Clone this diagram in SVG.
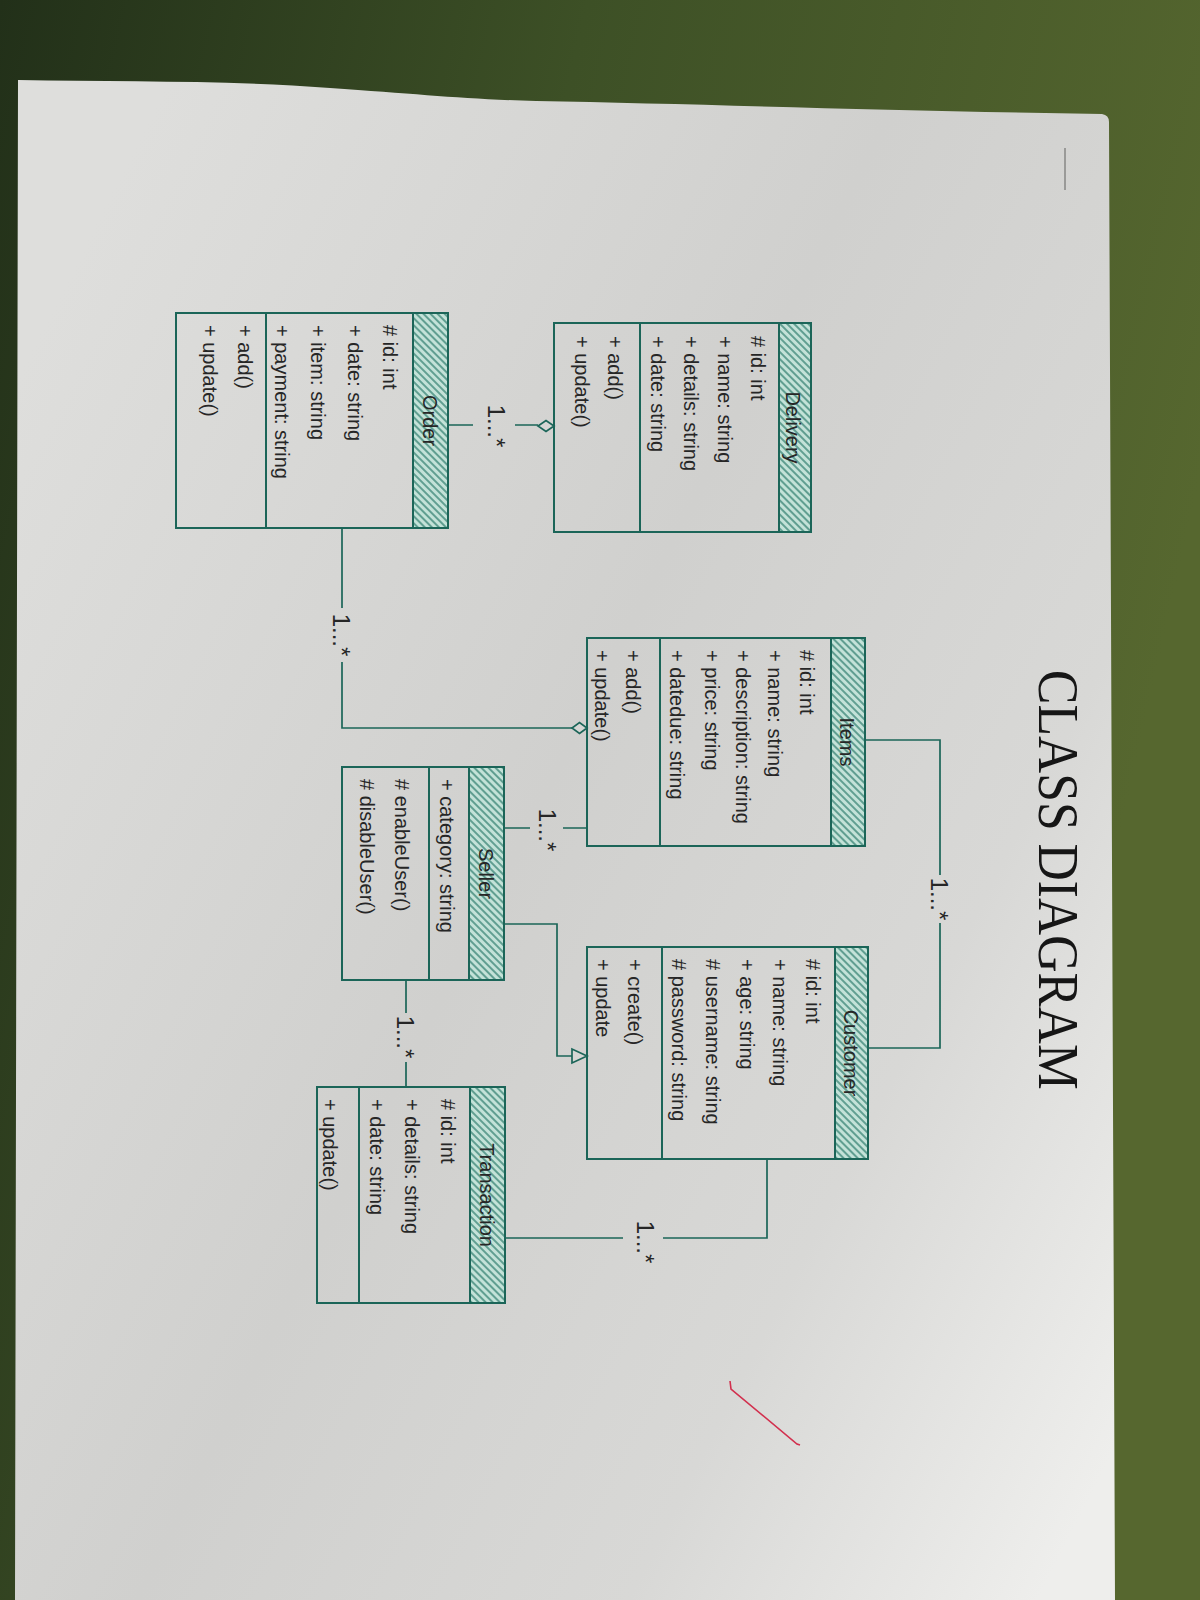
<svg xmlns="http://www.w3.org/2000/svg" width="1200" height="1600" viewBox="0 0 1200 1600">
<defs>
<linearGradient id="bg" x1="0" y1="0" x2="1" y2="0.3">
<stop offset="0" stop-color="#223019"/>
<stop offset="0.45" stop-color="#3d5026"/>
<stop offset="1" stop-color="#56672f"/>
</linearGradient>
<linearGradient id="paper" x1="0" y1="0.2" x2="1" y2="0.9">
<stop offset="0" stop-color="#dededc"/>
<stop offset="0.45" stop-color="#d0d0ce"/>
<stop offset="0.75" stop-color="#d8d8d6"/>
<stop offset="1" stop-color="#eeeeec"/>
</linearGradient>
<pattern id="hatch" patternUnits="userSpaceOnUse" width="5" height="10" patternTransform="rotate(45)">
<rect width="5" height="10" fill="#c3e2d8"/>
<line x1="1" y1="0" x2="1" y2="10" stroke="#2b7a6b" stroke-width="1.3"/>
</pattern>
<style>
.box{fill:none;stroke:#1b6558;stroke-width:2}
.hdr{fill:url(#hatch);stroke:#1b6558;stroke-width:2}
.div{stroke:#1b6558;stroke-width:2}
.t{font-family:"Liberation Sans",Arial,sans-serif;font-size:20px;fill:#262626}
.h{font-family:"Liberation Sans",Arial,sans-serif;font-size:20px;fill:#262626;text-anchor:middle}
.edge{fill:none;stroke:#1b6558;stroke-width:1.7}
.end{fill:#d6d6d4;stroke:#1b6558;stroke-width:1.7}
.lbl{font-family:"Liberation Sans",Arial,sans-serif;font-size:24px;fill:#262626;text-anchor:middle}
.title{font-family:"Liberation Serif","Times New Roman",serif;font-size:56px;fill:#161616}
</style>
</defs>
<rect width="1200" height="1600" fill="url(#bg)"/>
<path d="M18 80 C 120 82 230 80 330 88 C 420 94 460 99 536 101 C 700 104 900 111 1102 114 Q 1109 115 1109 122 L 1115 1600 L 15 1600 Z" fill="url(#paper)"/>
<line x1="1065" y1="148" x2="1065" y2="190" stroke="#9a9a98" stroke-width="2"/>
<path d="M730 1381 L731 1389 L797 1444 L800 1445" fill="none" stroke="#d2304e" stroke-width="1.6"/>

<g transform="translate(1200,0) rotate(90)">
<text class="title" x="670" y="161" textLength="420" lengthAdjust="spacingAndGlyphs">CLASS DIAGRAM</text>

<g id="delivery">
<rect class="box" x="323" y="389" width="209" height="257"/>
<rect class="hdr" x="323" y="389" width="209" height="32"/>
<line class="div" x1="323" y1="560" x2="532" y2="560"/>
<text class="h" x="427.5" y="414">Delivery</text>
<text class="t" x="336" y="449"># id: int</text>
<text class="t" x="336" y="482">+ name: string</text>
<text class="t" x="336" y="516">+ details: string</text>
<text class="t" x="336" y="549">+ date: string</text>
<text class="t" x="336" y="592">+ add()</text>
<text class="t" x="336" y="625">+ update()</text>
</g>

<g id="order">
<rect class="box" x="313" y="752" width="215" height="272"/>
<rect class="hdr" x="313" y="752" width="215" height="35"/>
<line class="div" x1="313" y1="934" x2="528" y2="934"/>
<text class="h" x="420.5" y="777">Order</text>
<text class="t" x="325" y="817"># id: int</text>
<text class="t" x="325" y="852">+ date: string</text>
<text class="t" x="325" y="889">+ item: string</text>
<text class="t" x="325" y="925">+ payment: string</text>
<text class="t" x="325" y="962">+ add()</text>
<text class="t" x="325" y="997">+ update()</text>
</g>

<g id="items">
<rect class="box" x="638" y="335" width="208" height="278"/>
<rect class="hdr" x="638" y="335" width="208" height="34"/>
<line class="div" x1="638" y1="540" x2="846" y2="540"/>
<text class="h" x="742" y="360">Items</text>
<text class="t" x="650" y="400"># id: int</text>
<text class="t" x="650" y="432">+ name: string</text>
<text class="t" x="650" y="464">+ description: string</text>
<text class="t" x="650" y="495">+ price: string</text>
<text class="t" x="650" y="530">+ datedue: string</text>
<text class="t" x="650" y="574">+ add()</text>
<text class="t" x="650" y="605">+ update()</text>
</g>

<g id="customer">
<rect class="box" x="947" y="332" width="212" height="281"/>
<rect class="hdr" x="947" y="332" width="212" height="33"/>
<line class="div" x1="947" y1="538" x2="1159" y2="538"/>
<text class="h" x="1053" y="356">Customer</text>
<text class="t" x="959" y="394"># id: int</text>
<text class="t" x="959" y="427">+ name: string</text>
<text class="t" x="959" y="460">+ age: string</text>
<text class="t" x="959" y="494"># username: string</text>
<text class="t" x="959" y="528"># password: string</text>
<text class="t" x="959" y="572">+ create()</text>
<text class="t" x="959" y="604">+ update</text>
</g>

<g id="seller">
<rect class="box" x="767" y="696" width="213" height="162"/>
<rect class="hdr" x="767" y="696" width="213" height="35"/>
<line class="div" x1="767" y1="771" x2="980" y2="771"/>
<text class="h" x="873.5" y="721">Seller</text>
<text class="t" x="779" y="760">+ category: string</text>
<text class="t" x="779" y="805"># enableUser()</text>
<text class="t" x="779" y="840"># disableUser()</text>
</g>

<g id="transaction">
<rect class="box" x="1087" y="695" width="216" height="188"/>
<rect class="hdr" x="1087" y="695" width="216" height="35"/>
<line class="div" x1="1087" y1="841" x2="1303" y2="841"/>
<text class="h" x="1195" y="720">Transaction</text>
<text class="t" x="1099" y="759"># id: int</text>
<text class="t" x="1099" y="795">+ details: string</text>
<text class="t" x="1099" y="830">+ date: string</text>
<text class="t" x="1099" y="877">+ update()</text>
</g>

<g id="connectors">
<path class="edge" d="M425 662 L425 685 M425 727 L425 752"/>
<polygon class="end" points="426,646 431.5,654 426,662 420.5,654"/>
<text class="lbl" x="426" y="712">1...*</text>

<path class="edge" d="M528 858 L608 858 M662 858 L728 858 L728 628"/>
<polygon class="end" points="728,613 733.5,620.5 728,628 722.5,620.5"/>
<text class="lbl" x="635" y="867">1...*</text>

<path class="edge" d="M740 335 L740 260 L875 260 M923 260 L1048 260 L1048 332"/>
<text class="lbl" x="899" y="269">1...*</text>

<path class="edge" d="M828 696 L828 670 M828 637 L828 613"/>
<text class="lbl" x="830" y="661">1...*</text>

<path class="edge" d="M924 696 L924 643 L1056 643 L1056 628"/>
<polygon class="end" points="1056,613 1063,628 1049,628"/>

<path class="edge" d="M980 794 L1013 794 M1062 794 L1087 794"/>
<text class="lbl" x="1037" y="803">1...*</text>

<path class="edge" d="M1159 433 L1238 433 L1238 537 M1238 577 L1238 695"/>
<text class="lbl" x="1242" y="563">1...*</text>
</g>
</g>
</svg>
